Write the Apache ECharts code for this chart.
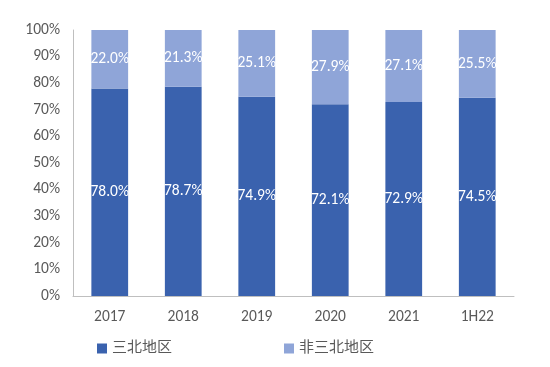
<!DOCTYPE html>
<html>
<head>
<meta charset="utf-8">
<script src="https://cdn.jsdelivr.net/npm/echarts@6/dist/echarts.min.js"></script>
<style>
  html, body { margin: 0; padding: 0; background: #fff; }
  #chart { width: 550px; height: 367px; }
</style>
</head>
<body>
<div id="chart"></div>
<script>
var categories = ['2017', '2018', '2019', '2020', '2021', '1H22'];
var sanbei = [78.0, 78.7, 74.9, 72.1, 72.9, 74.5];
var feiSanbei = [22.0, 21.3, 25.1, 27.9, 27.1, 25.5];

var font = 'Calibri, Carlito, "Noto Sans CJK SC", "Liberation Sans", sans-serif';

var chart = echarts.init(document.getElementById('chart'));
chart.setOption({
  animation: false,
  grid: { left: 73, right: 36, top: 30, bottom: 71 },
  legend: {
    bottom: 6,
    left: 92,
    itemWidth: 10,
    itemHeight: 10,
    itemGap: 112,
    icon: 'rect',
    textStyle: { color: '#595959', fontSize: 15, fontFamily: font },
    data: ['三北地区', '非三北地区']
  },
  xAxis: {
    type: 'category',
    data: categories,
    axisLine: { lineStyle: { color: '#BFBFBF', width: 1 } },
    axisTick: { show: false },
    axisLabel: { color: '#595959', fontSize: 15.5, fontFamily: font, margin: 13 }
  },
  yAxis: {
    type: 'value',
    min: 0,
    max: 100,
    interval: 10,
    splitLine: { show: false },
    axisLine: { show: true, lineStyle: { color: '#BFBFBF', width: 1 } },
    axisTick: { show: false },
    axisLabel: { color: '#595959', fontSize: 15.5, fontFamily: font, margin: 13, formatter: '{value}%' }
  },
  series: [{
    name: '三北地区',
    type: 'bar',
    stack: 'total',
    barWidth: '50%',
    itemStyle: { color: '#3A62AE' },
    label: {
      show: true,
      position: 'inside',
      color: '#fff',
      fontSize: 15.5,
      fontFamily: font,
      formatter: function (p) { return p.value.toFixed(1) + '%'; }
    },
    data: sanbei
  }, {
    name: '非三北地区',
    type: 'bar',
    stack: 'total',
    barWidth: '50%',
    itemStyle: { color: '#8FA5D8' },
    label: {
      show: true,
      position: 'inside',
      color: '#fff',
      fontSize: 15.5,
      fontFamily: font,
      formatter: function (p) { return p.value.toFixed(1) + '%'; }
    },
    data: feiSanbei
  }]
});
</script>
</body>
</html>
